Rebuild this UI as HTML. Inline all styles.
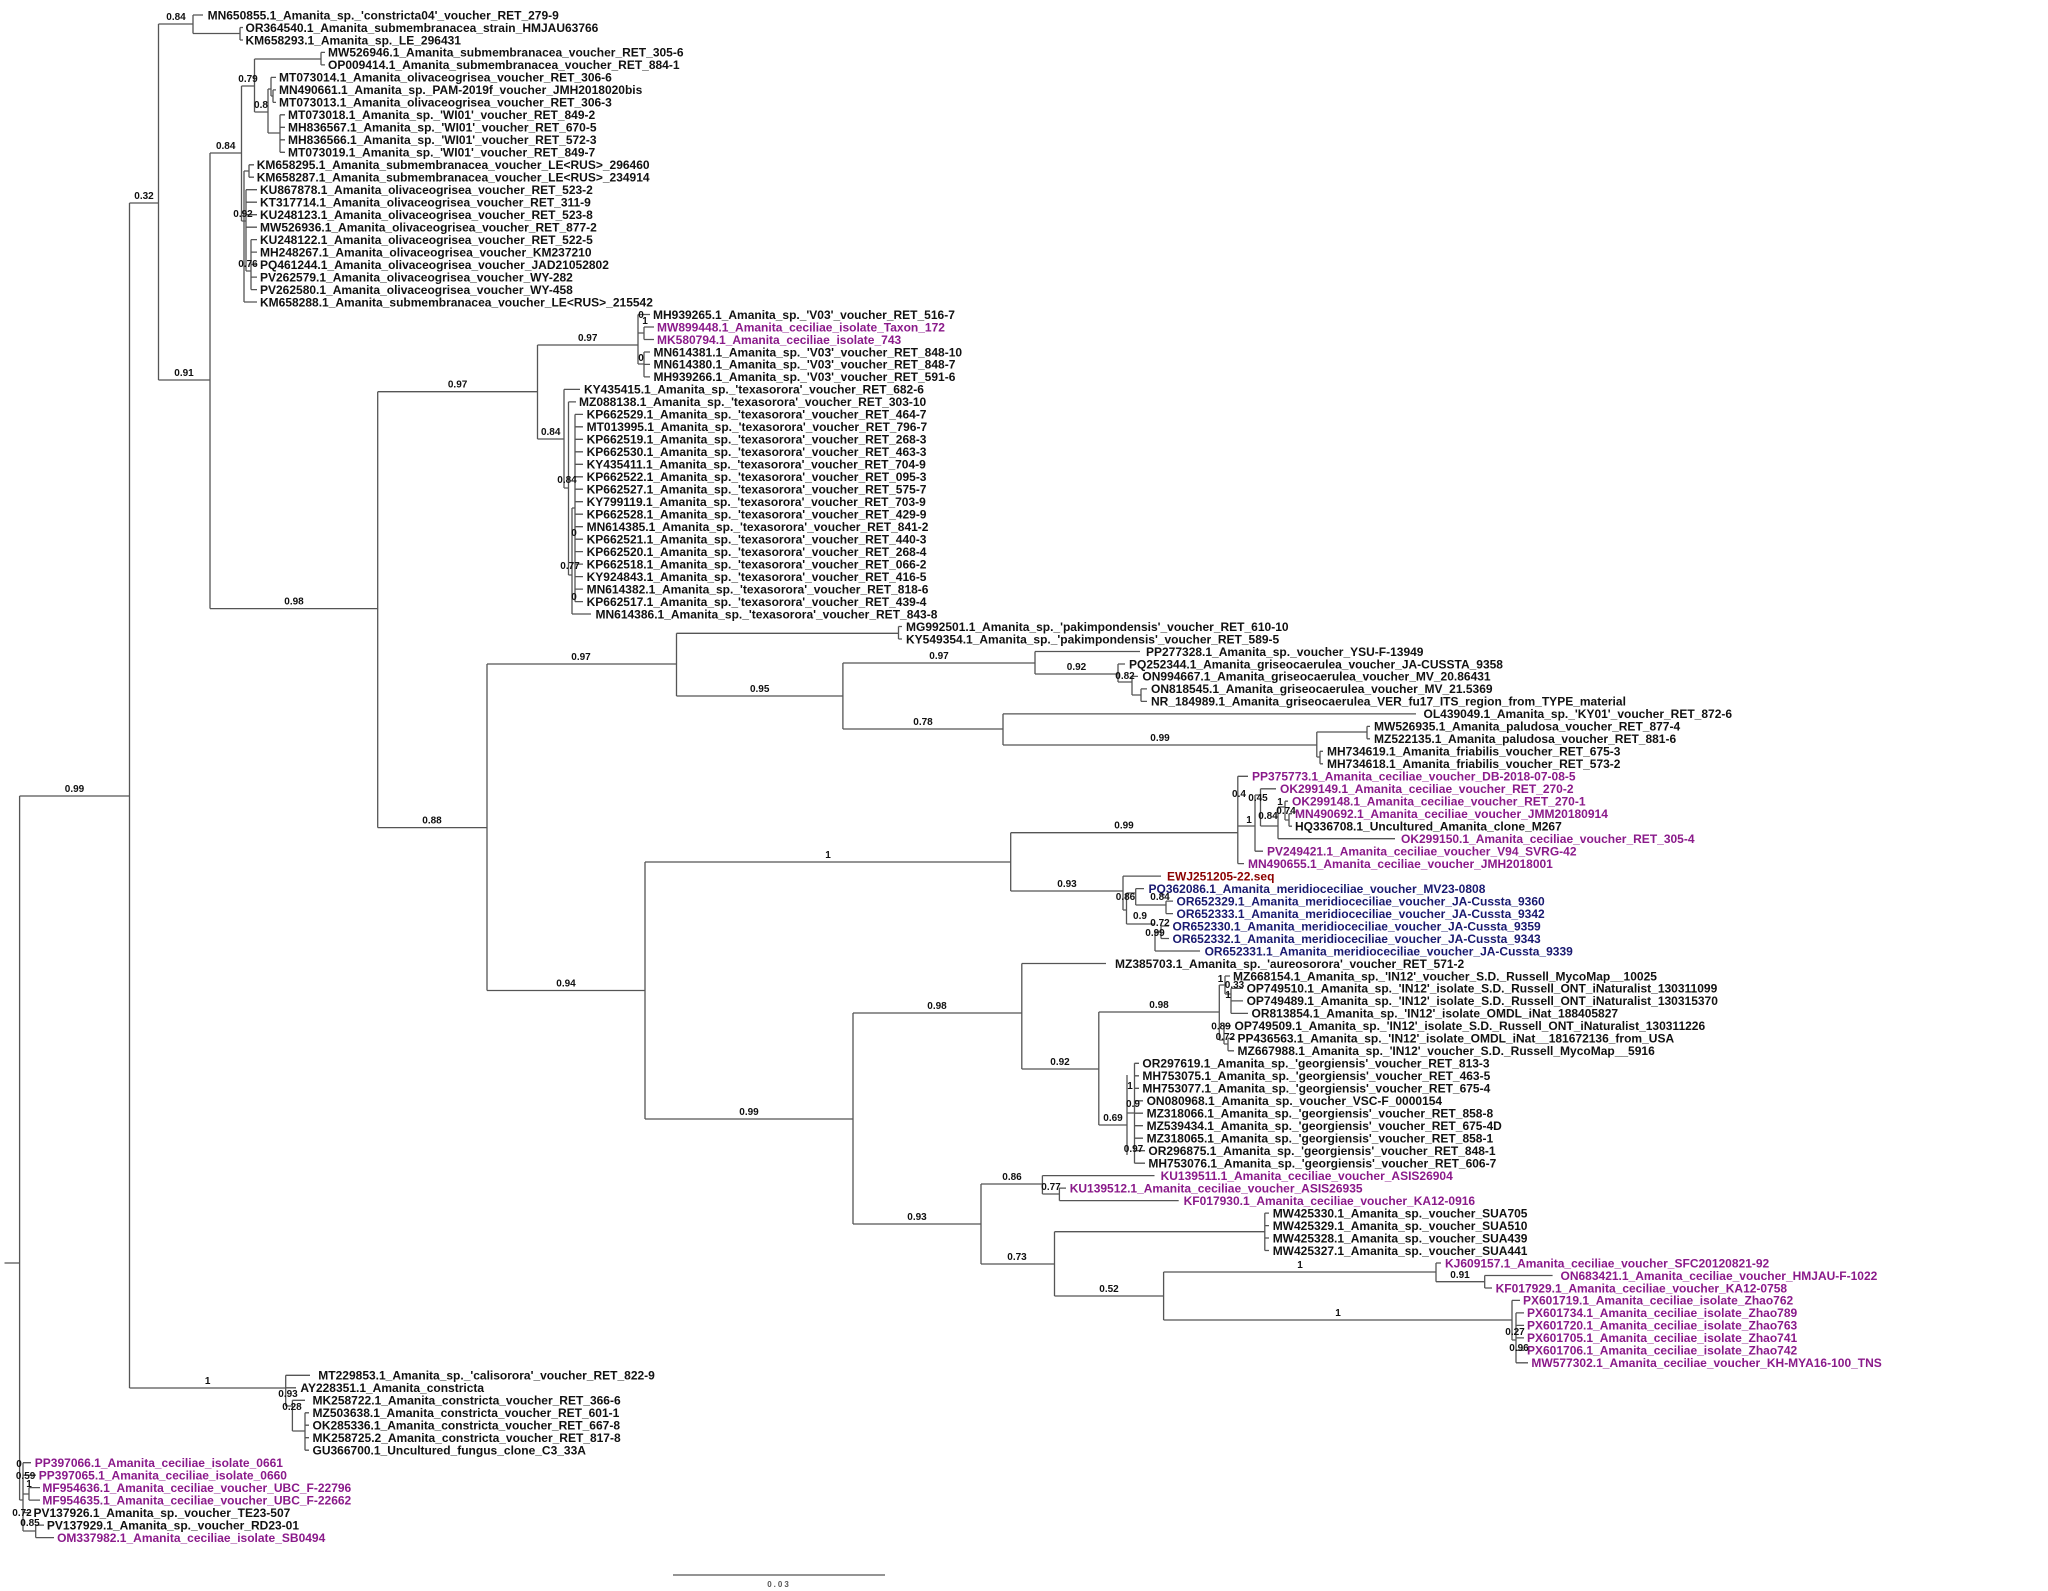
<!DOCTYPE html>
<html><head><meta charset="utf-8"><style>
html,body{margin:0;padding:0;background:#fff}
svg{display:block}
.t{font-family:"Liberation Sans",sans-serif;font-weight:bold;font-size:12px;fill:#111}
.p{fill:#8a1a8a}.b{fill:#191970}.r{fill:#8b0000}
.s{font-family:"Liberation Sans",sans-serif;font-weight:bold;font-size:10px;fill:#111;text-anchor:middle}
</style></head><body>
<svg width="2048" height="1591" viewBox="0 0 2048 1591" xmlns="http://www.w3.org/2000/svg">
<rect width="2048" height="1591" fill="#fff"/>
<path fill="none" stroke="#555" stroke-width="1.3" d="
M4.5 1263H19.6 M19.6 796V1500 M19.6 796H129.5 M129.5 203V1388 M129.5 203H158.5
M158.5 24V380 M158.5 24H193 M193 15V33.5 M193 15H203 M193 33.5H240 M240 27.5V40 M240 27.5H243 M240 40H243
M158.5 380H210 M210 153V608.6 M210 153H241.5 M241.5 86V221 M241.5 86H254.5 M254.5 59V112 M254.5 59H321
M321 52.4V64.9 M321 52.4H325 M321 64.9H325 M254.5 112H268 M268 89V133 M268 89H271 M271 77.4V96 M271 77.4H276 M271 96H273
M273 89.9V102.4 M273 89.9H276 M273 102.4H276 M268 133H280 M280 114.8V152.3 M280 114.8H285 M280 127.3H285 M280 139.8H285 M280 152.3H285
M241.5 221H244 M244 171V302 M244 171H249 M249 164.8V177.2 M249 164.8H254 M249 177.2H254 M244 221H246 M246 189.7V271
M246 189.7H257 M246 202.2H257 M246 214.7H257 M246 227.2H257 M246 271H251 M251 239.6V289.6 M251 239.6H257 M251 252.1H257 M251 264.6H257 M251 277.1H257 M251 289.6H257 M244 302H257
M210 608.6H377.7 M377.7 391.7V827.6 M377.7 391.7H537.5 M537.5 345V439 M537.5 345H638 M638 314.5V364 M638 314.5H650
M638 333H644 M644 327V339.5 M644 327H654 M644 339.5H654 M638 364H644 M644 352V376.9 M644 352H650 M644 364.4H650 M644 376.9H650
M537.5 439H564 M564 389.4V488 M564 389.4H580 M564 488H568.5 M568.5 401.9V575 M568.5 401.9H576 M568.5 575H572 M572 508V614 M572 508H575
M575 414.4V601.6 M575 414.4H583 M575 426.8H583 M575 439.3H583 M575 451.8H583 M575 464.3H583 M575 476.8H583 M575 489.2H583 M575 501.7H583
M575 514.2H583 M575 526.7H583 M575 539.2H583 M575 551.6H583 M575 564.1H583 M575 576.6H583 M575 589.1H583 M575 601.6H583 M572 614H591
M377.7 827.6H487 M487 664V990.5 M487 664H676.5 M676.5 633.3V696 M676.5 633.3H898.5 M898.5 626.5V639 M898.5 626.5H902 M898.5 639H902
M676.5 696H842.9 M842.9 663V729 M842.9 663H1035 M1035 651.5V674 M1035 651.5H1140 M1035 674H1118 M1118 664V682 M1118 664H1125 M1118 682H1132
M1132 676.4V695 M1132 676.4H1138 M1132 695H1141 M1141 688.9V701.4 M1141 688.9H1147 M1141 701.4H1147
M842.9 729H1003 M1003 713.9V745 M1003 713.9H1416 M1003 745H1316.8 M1316.8 732V757 M1316.8 732H1367 M1367 726.4V738.8 M1367 726.4H1370 M1367 738.8H1370
M1316.8 757H1320 M1320 751.3V763.8 M1320 751.3H1323 M1320 763.8H1323
M487 990.5H645 M645 862V1119 M645 862H1010.7 M1010.7 832.7V891 M1010.7 832.7H1237.8 M1237.8 776.3V863.6 M1237.8 776.3H1248 M1237.8 863.6H1244
M1237.8 826H1255 M1255 795V851.2 M1255 851.2H1263 M1255 795H1260.5 M1260.5 788.8V826 M1260.5 788.8H1276 M1260.5 826H1278
M1278 807V838.7 M1278 838.7H1395 M1278 807H1285 M1285 801.2V820 M1285 801.2H1288 M1285 820H1289 M1289 813.7V826.2 M1289 813.7H1292 M1289 826.2H1292
M1010.7 891H1123 M1123 876.1V910 M1123 876.1H1161 M1123 910H1126.5 M1126.5 893V924 M1126.5 893H1135.7 M1135.7 888.6V905 M1135.7 888.6H1144
M1135.7 905H1166 M1166 901.1V913.6 M1166 901.1H1173 M1166 913.6H1173 M1126.5 924H1155 M1155 932V951 M1155 951H1200 M1155 932H1161 M1161 926V938.5 M1161 926H1169 M1161 938.5H1169
M645 1119H853 M853 1013V1224 M853 1013H1021.8 M1021.8 963.5V1069 M1021.8 963.5H1106 M1021.8 1069H1098.8 M1098.8 1012V1125 M1098.8 1012H1219.3
M1219.3 985V1040 M1219.3 985H1225 M1225 976V994 M1225 976H1230 M1225 994H1231 M1231 988.4V1013.4 M1231 988.4H1243 M1231 1000.9H1243 M1231 1013.4H1248
M1219.3 1040H1224 M1224 1025.9V1044 M1224 1025.9H1231 M1224 1044H1228 M1228 1038.4V1050.8 M1228 1038.4H1234 M1228 1050.8H1234
M1098.8 1125H1127 M1127 1075V1155 M1127 1113H1134.5 M1134.5 1063.3V1163.2 M1134.5 1063.3H1139 M1134.5 1075.8H1139 M1134.5 1088.3H1139 M1134.5 1100.8H1143
M1134.5 1113.2H1143 M1134.5 1125.7H1143 M1134.5 1138.2H1143 M1134.5 1150.7H1145 M1134.5 1163.2H1145
M853 1224H981 M981 1184V1264 M981 1184H1042.4 M1042.4 1175.6V1194 M1042.4 1175.6H1154.5 M1042.4 1194H1059.4 M1059.4 1188.1V1200.6 M1059.4 1188.1H1066 M1059.4 1200.6H1178.7
M981 1264H1054.5 M1054.5 1231.7V1296 M1054.5 1231.7H1264.8 M1264.8 1213.1V1250.5 M1264.8 1213.1H1269 M1264.8 1225.6H1269 M1264.8 1238H1269 M1264.8 1250.5H1269
M1054.5 1296H1163.6 M1163.6 1272V1320 M1163.6 1272H1436 M1436 1263V1281.7 M1436 1263H1441 M1436 1281.7H1484.7 M1484.7 1275.5V1288 M1484.7 1275.5H1552.6 M1484.7 1288H1492
M1163.6 1320H1512 M1512 1300.4V1340 M1512 1300.4H1520 M1512 1340H1516 M1516 1312.9V1362.8 M1516 1312.9H1524 M1516 1325.4H1524 M1516 1337.9H1524 M1516 1350.4H1524 M1516 1362.8H1528
M129.5 1388H285.7 M285.7 1375.3V1406 M285.7 1375.3H310 M285.7 1387.8H296 M285.7 1406H292.4 M292.4 1400.3V1431 M292.4 1400.3H305 M292.4 1431H305
M305 1412.8V1450.2 M305 1412.8H309 M305 1425.2H309 M305 1437.7H309 M305 1450.2H309
M19.6 1500H23 M23 1462.7V1531 M23 1462.7H31 M23 1475.2H36 M23 1494H29 M29 1487.6V1500.1 M29 1487.6H40 M29 1500.1H40 M23 1512.6H31
M23 1531H35.7 M35.7 1525.1V1537.6 M35.7 1525.1H44 M35.7 1537.6H54
M673 1575H885"/>
<g class="t">
<text x="207.6" y="19.3">MN650855.1_Amanita_sp._'constricta04'_voucher_RET_279-9</text>
<text x="245.5" y="31.8">OR364540.1_Amanita_submembranacea_strain_HMJAU63766</text>
<text x="245.5" y="44.3">KM658293.1_Amanita_sp._LE_296431</text>
<text x="328" y="56.7">MW526946.1_Amanita_submembranacea_voucher_RET_305-6</text>
<text x="328" y="69.2">OP009414.1_Amanita_submembranacea_voucher_RET_884-1</text>
<text x="279" y="81.7">MT073014.1_Amanita_olivaceogrisea_voucher_RET_306-6</text>
<text x="279" y="94.2">MN490661.1_Amanita_sp._PAM-2019f_voucher_JMH2018020bis</text>
<text x="279" y="106.7">MT073013.1_Amanita_olivaceogrisea_voucher_RET_306-3</text>
<text x="288" y="119.1">MT073018.1_Amanita_sp._'WI01'_voucher_RET_849-2</text>
<text x="288" y="131.6">MH836567.1_Amanita_sp._'WI01'_voucher_RET_670-5</text>
<text x="288" y="144.1">MH836566.1_Amanita_sp._'WI01'_voucher_RET_572-3</text>
<text x="288" y="156.6">MT073019.1_Amanita_sp._'WI01'_voucher_RET_849-7</text>
<text x="256.7" y="169.1">KM658295.1_Amanita_submembranacea_voucher_LE&lt;RUS&gt;_296460</text>
<text x="256.7" y="181.5">KM658287.1_Amanita_submembranacea_voucher_LE&lt;RUS&gt;_234914</text>
<text x="260" y="194">KU867878.1_Amanita_olivaceogrisea_voucher_RET_523-2</text>
<text x="260" y="206.5">KT317714.1_Amanita_olivaceogrisea_voucher_RET_311-9</text>
<text x="260" y="219">KU248123.1_Amanita_olivaceogrisea_voucher_RET_523-8</text>
<text x="260" y="231.5">MW526936.1_Amanita_olivaceogrisea_voucher_RET_877-2</text>
<text x="260" y="243.9">KU248122.1_Amanita_olivaceogrisea_voucher_RET_522-5</text>
<text x="260" y="256.4">MH248267.1_Amanita_olivaceogrisea_voucher_KM237210</text>
<text x="260" y="268.9">PQ461244.1_Amanita_olivaceogrisea_voucher_JAD21052802</text>
<text x="260" y="281.4">PV262579.1_Amanita_olivaceogrisea_voucher_WY-282</text>
<text x="260" y="293.9">PV262580.1_Amanita_olivaceogrisea_voucher_WY-458</text>
<text x="260" y="306.3">KM658288.1_Amanita_submembranacea_voucher_LE&lt;RUS&gt;_215542</text>
<text x="653" y="318.8">MH939265.1_Amanita_sp._'V03'_voucher_RET_516-7</text>
<text x="657" y="331.3" class="p">MW899448.1_Amanita_ceciliae_isolate_Taxon_172</text>
<text x="657" y="343.8" class="p">MK580794.1_Amanita_ceciliae_isolate_743</text>
<text x="653.5" y="356.3">MN614381.1_Amanita_sp._'V03'_voucher_RET_848-10</text>
<text x="653.5" y="368.7">MN614380.1_Amanita_sp._'V03'_voucher_RET_848-7</text>
<text x="653.5" y="381.2">MH939266.1_Amanita_sp._'V03'_voucher_RET_591-6</text>
<text x="584" y="393.7">KY435415.1_Amanita_sp._'texasorora'_voucher_RET_682-6</text>
<text x="579" y="406.2">MZ088138.1_Amanita_sp._'texasorora'_voucher_RET_303-10</text>
<text x="586.6" y="418.7">KP662529.1_Amanita_sp._'texasorora'_voucher_RET_464-7</text>
<text x="586.6" y="431.1">MT013995.1_Amanita_sp._'texasorora'_voucher_RET_796-7</text>
<text x="586.6" y="443.6">KP662519.1_Amanita_sp._'texasorora'_voucher_RET_268-3</text>
<text x="586.6" y="456.1">KP662530.1_Amanita_sp._'texasorora'_voucher_RET_463-3</text>
<text x="586.6" y="468.6">KY435411.1_Amanita_sp._'texasorora'_voucher_RET_704-9</text>
<text x="586.6" y="481.1">KP662522.1_Amanita_sp._'texasorora'_voucher_RET_095-3</text>
<text x="586.6" y="493.5">KP662527.1_Amanita_sp._'texasorora'_voucher_RET_575-7</text>
<text x="586.6" y="506">KY799119.1_Amanita_sp._'texasorora'_voucher_RET_703-9</text>
<text x="586.6" y="518.5">KP662528.1_Amanita_sp._'texasorora'_voucher_RET_429-9</text>
<text x="586.6" y="531">MN614385.1_Amanita_sp._'texasorora'_voucher_RET_841-2</text>
<text x="586.6" y="543.5">KP662521.1_Amanita_sp._'texasorora'_voucher_RET_440-3</text>
<text x="586.6" y="555.9">KP662520.1_Amanita_sp._'texasorora'_voucher_RET_268-4</text>
<text x="586.6" y="568.4">KP662518.1_Amanita_sp._'texasorora'_voucher_RET_066-2</text>
<text x="586.6" y="580.9">KY924843.1_Amanita_sp._'texasorora'_voucher_RET_416-5</text>
<text x="586.6" y="593.4">MN614382.1_Amanita_sp._'texasorora'_voucher_RET_818-6</text>
<text x="586.6" y="605.9">KP662517.1_Amanita_sp._'texasorora'_voucher_RET_439-4</text>
<text x="595.5" y="618.3">MN614386.1_Amanita_sp._'texasorora'_voucher_RET_843-8</text>
<text x="906" y="630.8">MG992501.1_Amanita_sp._'pakimpondensis'_voucher_RET_610-10</text>
<text x="906" y="643.3">KY549354.1_Amanita_sp._'pakimpondensis'_voucher_RET_589-5</text>
<text x="1146" y="655.8">PP277328.1_Amanita_sp._voucher_YSU-F-13949</text>
<text x="1129" y="668.3">PQ252344.1_Amanita_griseocaerulea_voucher_JA-CUSSTA_9358</text>
<text x="1142.4" y="680.7">ON994667.1_Amanita_griseocaerulea_voucher_MV_20.86431</text>
<text x="1151" y="693.2">ON818545.1_Amanita_griseocaerulea_voucher_MV_21.5369</text>
<text x="1151" y="705.7">NR_184989.1_Amanita_griseocaerulea_VER_fu17_ITS_region_from_TYPE_material</text>
<text x="1423.5" y="718.2">OL439049.1_Amanita_sp._'KY01'_voucher_RET_872-6</text>
<text x="1374" y="730.7">MW526935.1_Amanita_paludosa_voucher_RET_877-4</text>
<text x="1374" y="743.1">MZ522135.1_Amanita_paludosa_voucher_RET_881-6</text>
<text x="1327" y="755.6">MH734619.1_Amanita_friabilis_voucher_RET_675-3</text>
<text x="1327" y="768.1">MH734618.1_Amanita_friabilis_voucher_RET_573-2</text>
<text x="1252" y="780.6" class="p">PP375773.1_Amanita_ceciliae_voucher_DB-2018-07-08-5</text>
<text x="1280" y="793.1" class="p">OK299149.1_Amanita_ceciliae_voucher_RET_270-2</text>
<text x="1292" y="805.5" class="p">OK299148.1_Amanita_ceciliae_voucher_RET_270-1</text>
<text x="1295" y="818" class="p">MN490692.1_Amanita_ceciliae_voucher_JMM20180914</text>
<text x="1295" y="830.5">HQ336708.1_Uncultured_Amanita_clone_M267</text>
<text x="1401" y="843" class="p">OK299150.1_Amanita_ceciliae_voucher_RET_305-4</text>
<text x="1267" y="855.5" class="p">PV249421.1_Amanita_ceciliae_voucher_V94_SVRG-42</text>
<text x="1248" y="867.9" class="p">MN490655.1_Amanita_ceciliae_voucher_JMH2018001</text>
<text x="1167" y="880.4" class="r">EWJ251205-22.seq</text>
<text x="1148.5" y="892.9" class="b">PQ362086.1_Amanita_meridioceciliae_voucher_MV23-0808</text>
<text x="1176.5" y="905.4" class="b">OR652329.1_Amanita_meridioceciliae_voucher_JA-Cussta_9360</text>
<text x="1176.5" y="917.9" class="b">OR652333.1_Amanita_meridioceciliae_voucher_JA-Cussta_9342</text>
<text x="1172.5" y="930.3" class="b">OR652330.1_Amanita_meridioceciliae_voucher_JA-Cussta_9359</text>
<text x="1172.5" y="942.8" class="b">OR652332.1_Amanita_meridioceciliae_voucher_JA-Cussta_9343</text>
<text x="1204.6" y="955.3" class="b">OR652331.1_Amanita_meridioceciliae_voucher_JA-Cussta_9339</text>
<text x="1115" y="967.8">MZ385703.1_Amanita_sp._'aureosorora'_voucher_RET_571-2</text>
<text x="1233" y="980.3">MZ668154.1_Amanita_sp._'IN12'_voucher_S.D._Russell_MycoMap__10025</text>
<text x="1246.6" y="992.7">OP749510.1_Amanita_sp._'IN12'_isolate_S.D._Russell_ONT_iNaturalist_130311099</text>
<text x="1246.6" y="1005.2">OP749489.1_Amanita_sp._'IN12'_isolate_S.D._Russell_ONT_iNaturalist_130315370</text>
<text x="1251.5" y="1017.7">OR813854.1_Amanita_sp._'IN12'_isolate_OMDL_iNat_188405827</text>
<text x="1234.5" y="1030.2">OP749509.1_Amanita_sp._'IN12'_isolate_S.D._Russell_ONT_iNaturalist_130311226</text>
<text x="1237.5" y="1042.7">PP436563.1_Amanita_sp._'IN12'_isolate_OMDL_iNat__181672136_from_USA</text>
<text x="1237.5" y="1055.1">MZ667988.1_Amanita_sp._'IN12'_voucher_S.D._Russell_MycoMap__5916</text>
<text x="1142.4" y="1067.6">OR297619.1_Amanita_sp._'georgiensis'_voucher_RET_813-3</text>
<text x="1142.4" y="1080.1">MH753075.1_Amanita_sp._'georgiensis'_voucher_RET_463-5</text>
<text x="1142.4" y="1092.6">MH753077.1_Amanita_sp._'georgiensis'_voucher_RET_675-4</text>
<text x="1146.6" y="1105.1">ON080968.1_Amanita_sp._voucher_VSC-F_0000154</text>
<text x="1146.6" y="1117.5">MZ318066.1_Amanita_sp._'georgiensis'_voucher_RET_858-8</text>
<text x="1146.6" y="1130">MZ539434.1_Amanita_sp._'georgiensis'_voucher_RET_675-4D</text>
<text x="1146.6" y="1142.5">MZ318065.1_Amanita_sp._'georgiensis'_voucher_RET_858-1</text>
<text x="1148.4" y="1155">OR296875.1_Amanita_sp._'georgiensis'_voucher_RET_848-1</text>
<text x="1148.4" y="1167.5">MH753076.1_Amanita_sp._'georgiensis'_voucher_RET_606-7</text>
<text x="1160.6" y="1179.9" class="p">KU139511.1_Amanita_ceciliae_voucher_ASIS26904</text>
<text x="1069.7" y="1192.4" class="p">KU139512.1_Amanita_ceciliae_voucher_ASIS26935</text>
<text x="1183.6" y="1204.9" class="p">KF017930.1_Amanita_ceciliae_voucher_KA12-0916</text>
<text x="1272.7" y="1217.4">MW425330.1_Amanita_sp._voucher_SUA705</text>
<text x="1272.7" y="1229.9">MW425329.1_Amanita_sp._voucher_SUA510</text>
<text x="1272.7" y="1242.3">MW425328.1_Amanita_sp._voucher_SUA439</text>
<text x="1272.7" y="1254.8">MW425327.1_Amanita_sp._voucher_SUA441</text>
<text x="1445" y="1267.3" class="p">KJ609157.1_Amanita_ceciliae_voucher_SFC20120821-92</text>
<text x="1560.5" y="1279.8" class="p">ON683421.1_Amanita_ceciliae_voucher_HMJAU-F-1022</text>
<text x="1495.6" y="1292.3" class="p">KF017929.1_Amanita_ceciliae_voucher_KA12-0758</text>
<text x="1523" y="1304.7" class="p">PX601719.1_Amanita_ceciliae_isolate_Zhao762</text>
<text x="1527" y="1317.2" class="p">PX601734.1_Amanita_ceciliae_isolate_Zhao789</text>
<text x="1527" y="1329.7" class="p">PX601720.1_Amanita_ceciliae_isolate_Zhao763</text>
<text x="1527" y="1342.2" class="p">PX601705.1_Amanita_ceciliae_isolate_Zhao741</text>
<text x="1527" y="1354.7" class="p">PX601706.1_Amanita_ceciliae_isolate_Zhao742</text>
<text x="1531.4" y="1367.1" class="p">MW577302.1_Amanita_ceciliae_voucher_KH-MYA16-100_TNS</text>
<text x="318.3" y="1379.6">MT229853.1_Amanita_sp._'calisorora'_voucher_RET_822-9</text>
<text x="300.4" y="1392.1">AY228351.1_Amanita_constricta</text>
<text x="312.5" y="1404.6">MK258722.1_Amanita_constricta_voucher_RET_366-6</text>
<text x="312.5" y="1417.1">MZ503638.1_Amanita_constricta_voucher_RET_601-1</text>
<text x="312.5" y="1429.5">OK285336.1_Amanita_constricta_voucher_RET_667-8</text>
<text x="312.5" y="1442">MK258725.2_Amanita_constricta_voucher_RET_817-8</text>
<text x="312.5" y="1454.5">GU366700.1_Uncultured_fungus_clone_C3_33A</text>
<text x="34.8" y="1467" class="p">PP397066.1_Amanita_ceciliae_isolate_0661</text>
<text x="38.8" y="1479.5" class="p">PP397065.1_Amanita_ceciliae_isolate_0660</text>
<text x="42.4" y="1491.9" class="p">MF954636.1_Amanita_ceciliae_voucher_UBC_F-22796</text>
<text x="42.4" y="1504.4" class="p">MF954635.1_Amanita_ceciliae_voucher_UBC_F-22662</text>
<text x="33.5" y="1516.9">PV137926.1_Amanita_sp._voucher_TE23-507</text>
<text x="46.9" y="1529.4">PV137929.1_Amanita_sp._voucher_RD23-01</text>
<text x="57.1" y="1541.9" class="p">OM337982.1_Amanita_ceciliae_isolate_SB0494</text>
</g>
<g class="s">
<text x="74.5" y="792">0.99</text><text x="144" y="199">0.32</text><text x="176" y="20">0.84</text>
<text x="184" y="376">0.91</text><text x="225.7" y="149">0.84</text><text x="248" y="82">0.79</text>
<text x="261" y="108">0.8</text><text x="243" y="217">0.92</text><text x="248" y="267">0.76</text>
<text x="294" y="604.6">0.98</text><text x="457.6" y="387.7">0.97</text><text x="587.7" y="341">0.97</text>
<text x="641" y="318">0</text><text x="645" y="324">1</text><text x="641" y="361">0</text>
<text x="550.7" y="435">0.84</text><text x="567" y="483">0.84</text><text x="574" y="536">0</text>
<text x="570" y="569">0.77</text><text x="574" y="600">0</text><text x="432" y="823.6">0.88</text>
<text x="581" y="660">0.97</text><text x="759.7" y="692">0.95</text><text x="939" y="659">0.97</text>
<text x="1076.5" y="670">0.92</text><text x="1125" y="679">0.82</text><text x="923" y="725">0.78</text>
<text x="1160" y="741">0.99</text><text x="566" y="986.5">0.94</text><text x="828" y="858">1</text>
<text x="1124" y="828.7">0.99</text><text x="1239" y="797">0.4</text><text x="1258" y="801">0.45</text>
<text x="1249" y="823">1</text><text x="1280" y="805">1</text><text x="1268" y="819">0.84</text>
<text x="1286" y="814">0.74</text><text x="1067" y="887">0.93</text><text x="1125.5" y="900">0.86</text>
<text x="1160" y="900">0.84</text><text x="1140" y="919">0.9</text><text x="1160" y="926">0.72</text>
<text x="1155" y="936">0.99</text><text x="749" y="1115">0.99</text><text x="937" y="1009">0.98</text>
<text x="1060" y="1065">0.92</text><text x="1159" y="1008">0.98</text><text x="1220.5" y="982">1</text>
<text x="1234.5" y="988">0.33</text><text x="1228" y="998">1</text><text x="1221" y="1029.7">0.89</text>
<text x="1225.4" y="1040">0.72</text><text x="1113" y="1121">0.69</text><text x="1130" y="1089">1</text>
<text x="1133" y="1107">0.9</text><text x="1133.5" y="1152">0.97</text><text x="917" y="1220">0.93</text>
<text x="1012" y="1180">0.86</text><text x="1051" y="1190">0.77</text><text x="1017" y="1260">0.73</text>
<text x="1109" y="1292">0.52</text><text x="1300" y="1268">1</text><text x="1460" y="1278">0.91</text>
<text x="1338" y="1316">1</text><text x="1515" y="1335">0.27</text><text x="1519" y="1351">0.96</text>
<text x="207.6" y="1384">1</text><text x="288" y="1397">0.93</text><text x="292" y="1410">0.28</text>
<text x="19" y="1467">0</text><text x="25.6" y="1479">0.59</text><text x="29" y="1487">1</text>
<text x="22" y="1516">0.72</text><text x="30" y="1526">0.85</text>
</g>
<text x="779" y="1587" text-anchor="middle" font-family="Liberation Sans, sans-serif" font-size="8" font-weight="bold" fill="#555" letter-spacing="2">0.03</text>
</svg>
</body></html>
